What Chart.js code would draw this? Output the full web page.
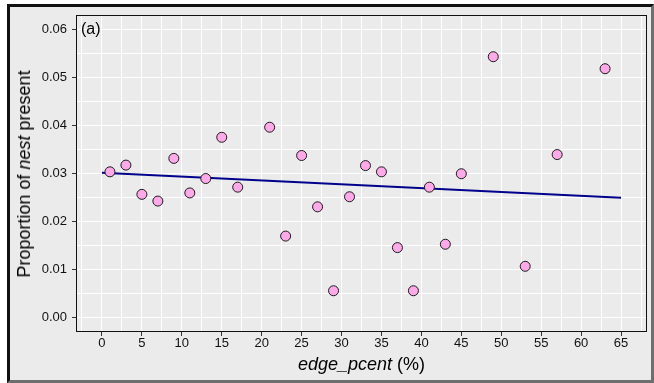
<!DOCTYPE html>
<html>
<head>
<meta charset="utf-8">
<script src="https://cdn.jsdelivr.net/npm/chart.js@4/dist/chart.umd.min.js"></script>
<style>
  body { margin: 0; background: #fff; font-family: "Liberation Sans", Arial, sans-serif; }
  #wrap { position: relative; width: 654px; height: 383px; overflow: hidden; }
  #frame { position: absolute; left: 7px; top: 4px; width: 647px; height: 379px; box-sizing: border-box;
           border: 3px solid #111; border-right-color: #6e6e6e; border-bottom-color: #6e6e6e; background: #ebebeb; }
  canvas { position: absolute; left: 0; top: 0; }
  .lbl { position: absolute; white-space: nowrap; color: #000; }
  #xtitle { left: 361.5px; top: 355px; font-size: 18px; line-height: 18px; transform: translateX(-50%); }
  #ytitle { left: 23.5px; top: 173.5px; font-size: 18px; line-height: 18px; transform: translate(-50%, -50%) rotate(-90deg); }
  #panel { left: 81px; top: 21px; font-size: 16px; line-height: 16px; }
</style>
</head>
<body>
<div id="wrap">
  <div id="frame"></div>
  <canvas id="grafico" width="654" height="383"></canvas>
  <div class="lbl" id="ytitle">Proportion of <i>nest</i> present</div>
  <div class="lbl" id="xtitle"><i>edge_pcent</i> (%)</div>
  <div class="lbl" id="panel">(a)</div>
</div>
<script>
// datos
var edgePcent = [1, 3, 5, 7, 9, 11, 13, 15, 17, 21, 23, 25, 27, 29, 31, 33, 35, 37, 39, 41, 43, 45, 49, 53, 57, 63];
var nestProp = [0.0304, 0.0318, 0.0257, 0.0243, 0.0332, 0.0260, 0.0290, 0.0376, 0.0272, 0.0397, 0.0170, 0.0338, 0.0231,
                0.0056, 0.0252, 0.0317, 0.0304, 0.0146, 0.0056, 0.0272, 0.0153, 0.0300, 0.0544, 0.0107, 0.0340, 0.0519];
var fitX = [0, 65];
var fitY = [0.0302, 0.0250];
var xTicks = [0, 5, 10, 15, 20, 25, 30, 35, 40, 45, 50, 55, 60, 65];
var yTicks = [0, 0.01, 0.02, 0.03, 0.04, 0.05, 0.06];

function isMajor(list, v) {
  return list.some(function(t) { return Math.abs(t - v) < 1e-9; });
}
// lineas de grilla: mayores + intermedias
function gridValues(list, min, max) {
  var step = (list[1] - list[0]) / 2;
  var out = [];
  for (var v = list[0] - step * 4; v <= max + 1e-9; v += step) {
    if (v >= min - 1e-9) out.push(Math.round(v / step) * step);
  }
  return out;
}

var tickFont = { family: '"Liberation Sans", Arial, sans-serif', size: 13 };

var borderPanel = {
  id: 'borderPanel',
  afterDraw: function(chart) {
    var a = chart.chartArea, c = chart.ctx;
    c.save();
    c.strokeStyle = '#111';
    c.lineWidth = 1;
    c.strokeRect(Math.round(a.left) + 0.5, Math.round(a.top) + 0.5, Math.round(a.right - a.left) - 1, Math.round(a.bottom - a.top) - 1);
    c.restore();
  }
};

var ctx = document.getElementById('grafico').getContext('2d');
var grafico = new Chart(ctx, {
  type: 'scatter',
  data: {
    datasets: [{
      label: 'nest',
      data: edgePcent.map(function(x, i) { return { x: x, y: nestProp[i] }; }),
      backgroundColor: '#ffaae8',
      borderColor: '#1a1a1a',
      borderWidth: 1,
      pointRadius: 5,
      pointHoverRadius: 5
    }, {
      label: 'ajuste',
      type: 'line',
      data: fitX.map(function(x, i) { return { x: x, y: fitY[i] }; }),
      borderColor: '#00008b',
      borderWidth: 2,
      pointRadius: 0,
      fill: false
    }]
  },
  options: {
    responsive: false,
    animation: false,
    layout: { padding: { left: 0, top: 15, right: 7, bottom: 0 } },
    plugins: { legend: { display: false }, tooltip: { enabled: false } },
    scales: {
      x: {
        type: 'linear',
        min: -3.25,
        max: 68.25,
        afterBuildTicks: function(s) {
          s.ticks = gridValues(xTicks, s.min, s.max).map(function(v) { return { value: v }; });
        },
        afterFit: function(s) { s.height = 51; },
        grid: {
          color: '#ffffff',
          lineWidth: 1,
          tickLength: 4,
          tickColor: function(c) { return c.tick && isMajor(xTicks, c.tick.value) ? '#333' : 'rgba(0,0,0,0)'; }
        },
        border: { display: false },
        ticks: {
          autoSkip: false,
          maxRotation: 0,
          padding: 0,
          color: '#111',
          font: tickFont,
          callback: function(v) { return isMajor(xTicks, v) ? String(Math.round(v)) : ''; }
        }
      },
      y: {
        min: -0.003,
        max: 0.0631,
        afterBuildTicks: function(s) {
          s.ticks = gridValues(yTicks, s.min, s.max).map(function(v) { return { value: v }; });
        },
        afterFit: function(s) { s.width = 76; },
        grid: {
          color: '#ffffff',
          lineWidth: 1,
          tickLength: 4,
          tickColor: function(c) { return c.tick && isMajor(yTicks, c.tick.value) ? '#333' : 'rgba(0,0,0,0)'; }
        },
        border: { display: false },
        ticks: {
          autoSkip: false,
          padding: 5,
          color: '#111',
          font: tickFont,
          callback: function(v) { return isMajor(yTicks, v) ? v.toFixed(2) : ''; }
        }
      }
    }
  },
  plugins: [borderPanel]
});
</script>
</body>
</html>
